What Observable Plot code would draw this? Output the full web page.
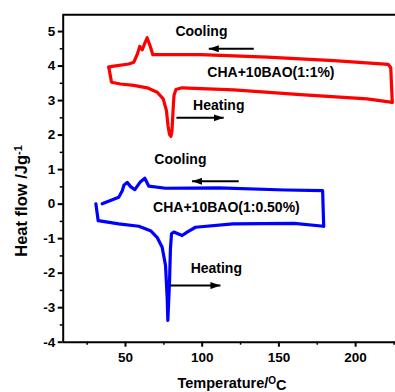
<!DOCTYPE html>
<html>
<head>
<meta charset="utf-8">
<script src="https://cdn.jsdelivr.net/npm/d3@7"></script>
<script src="https://cdn.jsdelivr.net/npm/@observablehq/plot@0.6"></script>
<style>
  html, body { margin: 0; padding: 0; background: #fff; }
  #chart { width: 395px; height: 392px; overflow: hidden; }
</style>
</head>
<body>
<div id="chart"></div>
<script>
// ---- Data ----
const redHeatT = [39.1, 40.9, 46.7, 55.4, 64.1, 70.7, 74.6, 76.7, 77.7, 78.7, 79.6, 80.3, 81.0, 81.6, 82.9, 86.9, 120.6, 164, 207.5, 223.9];
const redHeatV = [3.97, 3.53, 3.48, 3.44, 3.37, 3.24, 3.05, 2.71, 2.28, 2.02, 1.96, 2.13, 2.71, 3.15, 3.32, 3.37, 3.31, 3.17, 3.05, 2.95];
const redCoolT = [223.9, 222.9, 221.3, 185.7, 142.3, 98.9, 73.9, 67.8, 66.3, 64.1, 62.4, 60.9, 59.3, 57.6, 55.4, 52.2, 41.3, 39.1];
const redCoolV = [2.95, 3.95, 4.05, 4.16, 4.26, 4.33, 4.33, 4.33, 4.55, 4.82, 4.64, 4.47, 4.57, 4.33, 4.11, 4.06, 3.99, 3.97];

const blueHeatT = [30.7, 32.2, 45.6, 58.7, 66.3, 70.6, 73.9, 76.1, 77.2, 77.6, 78.7, 79.3, 80.0, 81.5, 86.9, 90.2, 95.6, 120, 160, 179.2];
const blueHeatV = [0.01, -0.48, -0.57, -0.64, -0.77, -0.96, -1.25, -1.78, -2.74, -3.37, -2.26, -1.29, -0.86, -0.81, -0.91, -0.81, -0.67, -0.57, -0.56, -0.64];
const blueCoolT = [179.2, 178.5, 154.2, 110.8, 76.1, 65.2, 62.6, 59.8, 56.1, 53.5, 51.1, 49.0, 47.9, 45.6, 34.8];
const blueCoolV = [-0.64, 0.39, 0.41, 0.47, 0.46, 0.52, 0.75, 0.65, 0.42, 0.50, 0.63, 0.55, 0.39, 0.20, 0.01];

const labelText = ["Cooling", "CHA+10BAO(1:1%)", "Heating", "Cooling", "CHA+10BAO(1:0.50%)", "Heating"];
const labelT = [99.5, 144.8, 110.8, 85.8, 115.8, 109.2];
const labelV = [5.0, 3.82, 2.86, 1.29, -0.09, -1.87];

const arrowFrom = [133.6, 83.2, 123.8, 79.3];
const arrowTo = [104.3, 114.0, 93.4, 111.9];
const arrowV = [4.5, 2.50, 0.66, -2.36];

const xTicks = [50, 100, 150, 200];
const xTickLabels = ["50", "100", "150", "200"];
const xMinor = [25, 75, 125, 175, 225];
const yTicks = [-4, -3, -2, -1, 0, 1, 2, 3, 4, 5];
const yTickLabels = ["-4", "-3", "-2", "-1", "0", "1", "2", "3", "4", "5"];
const yMinor = [-3.5, -2.5, -1.5, -0.5, 0.5, 1.5, 2.5, 3.5, 4.5];

const xDomain = [9.4, 226];
const yDomain = [-4, 5.485];

// ---- Build tables ----
const toPts = (T, V) => T.map((t, i) => ({t, v: V[i]}));
const curves = [
  {pts: toPts(redHeatT, redHeatV), color: "#ff0000"},
  {pts: toPts(redCoolT, redCoolV), color: "#ff0000"},
  {pts: toPts(blueHeatT, blueHeatV), color: "#0000ff"},
  {pts: toPts(blueCoolT, blueCoolV), color: "#0000ff"}
];
const labels = labelText.map((s, i) => ({s, t: labelT[i], v: labelV[i]}));
const arrows = arrowFrom.map((a, i) => ({a, b: arrowTo[i], v: arrowV[i]}));

const font = "'Liberation Sans', Arial, Helvetica, sans-serif";

const plot = Plot.plot({
  width: 395,
  height: 392,
  marginLeft: 62.7,
  marginRight: 0,
  marginTop: 14.3,
  marginBottom: 50.3,
  x: {domain: xDomain},
  y: {domain: yDomain},
  style: {fontFamily: font, fontWeight: "bold", fontSize: "13.5px", color: "#000", background: "#fff", overflow: "visible"},
  marks: [
    Plot.axisX(xTicks, {tickSize: 5, tickPadding: 5, strokeWidth: 2, tickFormat: (d, i) => xTickLabels[i], label: null}),
    Plot.axisX(xMinor, {tickSize: 3, strokeWidth: 1.5, tickFormat: null, text: null, label: null}),
    Plot.axisY(yTicks, {tickSize: 5, tickPadding: 3, strokeWidth: 2, tickFormat: (d, i) => yTickLabels[i], label: null}),
    Plot.axisY(yMinor, {tickSize: 3, strokeWidth: 1.5, tickFormat: null, text: null, label: null}),
    Plot.ruleX([xDomain[0]], {stroke: "#000", strokeWidth: 2}),
    Plot.ruleY([yDomain[0]], {stroke: "#000", strokeWidth: 2}),
    Plot.ruleY([yDomain[1]], {stroke: "#000", strokeWidth: 2}),
    ...curves.map(c => Plot.line(c.pts, {x: "t", y: "v", stroke: c.color, strokeWidth: 3.2, strokeLinejoin: "round", strokeLinecap: "round", curve: "linear"})),
    Plot.link(arrows, {x1: "a", x2: "b", y1: "v", y2: "v", stroke: "#000", strokeWidth: 2}),
    Plot.text(labels, {x: "t", y: "v", text: "s", fontSize: 14, fontWeight: "bold", fill: "#000", textAnchor: "middle"})
  ]
});

const svg = d3.select(plot);
// Filled arrowheads
const defs = svg.insert("defs", ":first-child");
defs.append("marker")
  .attr("id", "ahead")
  .attr("markerUnits", "userSpaceOnUse")
  .attr("markerWidth", 11).attr("markerHeight", 7)
  .attr("refX", 10).attr("refY", 3.5)
  .attr("orient", "auto")
  .append("path").attr("d", "M0,0L10,3.5L0,7Z").attr("fill", "#000");
svg.selectAll('g[aria-label="link"] path').attr("marker-end", "url(#ahead)");

// Axis titles
const yt = svg.append("text")
  .attr("transform", "translate(27,201) rotate(-90)")
  .attr("text-anchor", "middle")
  .attr("font-family", font).attr("font-weight", "bold").attr("font-size", "16.5px").attr("fill", "#000");
yt.append("tspan").text("Heat flow /Jg");
yt.append("tspan").attr("dy", "-0.45em").attr("font-size", "11px").text("-1");

const xt = svg.append("text")
  .attr("x", 232).attr("y", 388)
  .attr("text-anchor", "middle")
  .attr("font-family", font).attr("font-weight", "bold").attr("font-size", "14.5px").attr("fill", "#000");
xt.append("tspan").text("Temperature/");
xt.append("tspan").attr("dy", "-0.45em").attr("font-size", "10px").text("O");
xt.append("tspan").attr("dy", "0.45em").text("C");

document.getElementById("chart").appendChild(plot);
</script>
</body>
</html>
